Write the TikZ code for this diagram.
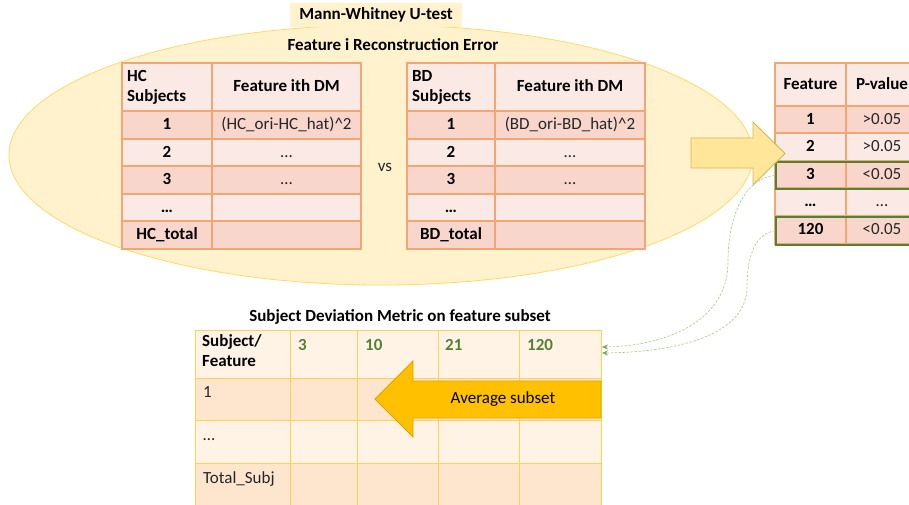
\documentclass[tikz,border=0pt]{standalone}
\usepackage{fontspec}
\setmainfont{Carlito}
\usetikzlibrary{arrows.meta}

\definecolor{ovalfill}{HTML}{FFF2CC}
\definecolor{ovalline}{HTML}{FFD966}
\definecolor{rowlight}{HTML}{FBE9E5}
\definecolor{rowdark}{HTML}{F8D6CC}
\definecolor{gridorange}{HTML}{F4A672}
\definecolor{sublight}{HTML}{FFF3E6}
\definecolor{subdark}{HTML}{FDE6CD}
\definecolor{gridyellow}{HTML}{FFD24F}
\definecolor{selgreen}{HTML}{548235}
\definecolor{linkgreen}{HTML}{A9D18E}
\definecolor{tipgreen}{HTML}{70AD47}
\definecolor{arrowpale}{HTML}{FFE699}
\definecolor{arrowpaleline}{HTML}{D6B656}
\definecolor{arrowgold}{HTML}{FFC000}
\definecolor{arrowgoldline}{HTML}{D9A400}
\definecolor{bodytext}{HTML}{262626}

\tikzset{
  plain/.style={inner sep=0pt, font=\fontsize{17}{20}\selectfont, text=bodytext},
  bplain/.style={inner sep=0pt, font=\fontsize{17}{20}\selectfont\bfseries, text=black},
  txt/.style={plain, text height=12pt, text depth=3pt},
  btxt/.style={bplain, text height=12pt, text depth=3pt},
  gridA/.style={draw=gridorange, line width=1.1pt},
  gridB/.style={draw=gridyellow, line width=1pt},
  selbox/.style={draw=selgreen, line width=1.8pt, inner sep=0pt, minimum width=150pt, minimum height=27pt, anchor=north west},
  link/.style={linkgreen, line width=0.7pt, dash pattern=on 2.5pt off 1.5pt, -{Stealth[length=6pt,width=5pt,color=tipgreen]}},
}

\begin{document}
\begin{tikzpicture}[x=1pt, y=-1pt]
\clip (0,0) rectangle (909,504);

% test region
\draw[ovalline, fill=ovalfill, line width=0.8pt] (381,155) ellipse [x radius=372, y radius=130];
\node[bplain, fill=ovalfill, minimum width=172pt, minimum height=24pt] (mwtitle) at (376,15) {Mann-Whitney U-test};
\node[btxt] (recon) at (393,46) {Feature i Reconstruction Error};

% HC table
\foreach \ya/\yb/\f in {63/111/rowlight,111/139/rowdark,139/166/rowlight,166/194/rowdark,194/221/rowlight,221/249/rowdark}
  \fill[\f] (122,\ya) rectangle (361,\yb);
\draw[gridA] (122,63) rectangle (361,249) (212,63) -- (212,249)
  \foreach \y in {111,139,166,194,221} {(122,\y) -- (361,\y)};
\node[bplain, anchor=west, align=left] (hc-h1) at (127,87) {HC\\Subjects};
\node[btxt] (hc-h2) at (286.5,87) {Feature ith DM};
\foreach \y/\a/\b [count=\i] in {125/1/(HC\_ori-HC\_hat)\textasciicircum2, 152.5/2/\ldots, 180/3/\ldots, 207.5/\ldots/, 235/HC\_total/} {
  \node[btxt] (hc-a\i) at (167,\y) {\a};
  \node[txt] (hc-b\i) at (286.5,\y) {\b};
}

\node[txt] (vs) at (385,167) {vs};

% BD table
\foreach \ya/\yb/\f in {63/111/rowlight,111/139/rowdark,139/166/rowlight,166/194/rowdark,194/221/rowlight,221/249/rowdark}
  \fill[\f] (407,\ya) rectangle (645,\yb);
\draw[gridA] (407,63) rectangle (645,249) (495,63) -- (495,249)
  \foreach \y in {111,139,166,194,221} {(407,\y) -- (645,\y)};
\node[bplain, anchor=west, align=left] (bd-h1) at (412,87) {BD\\Subjects};
\node[btxt] (bd-h2) at (570,87) {Feature ith DM};
\foreach \y/\a/\b [count=\i] in {125/1/(BD\_ori-BD\_hat)\textasciicircum2, 152.5/2/\ldots, 180/3/\ldots, 207.5/\ldots/, 235/BD\_total/} {
  \node[btxt] (bd-a\i) at (451,\y) {\a};
  \node[txt] (bd-b\i) at (570,\y) {\b};
}

% p-value table
\foreach \ya/\yb/\f in {63/106/rowlight,106/133/rowdark,133/161/rowlight,161/188/rowdark,188/216/rowlight,216/244/rowdark}
  \fill[\f] (775,\ya) rectangle (918,\yb);
\draw[gridA] (775,63) rectangle (918,244) (846,63) -- (846,244)
  \foreach \y in {106,133,161,188,216} {(775,\y) -- (918,\y)};
\node[btxt] (pv-h1) at (810.5,85) {Feature};
\node[btxt] (pv-h2) at (882,85) {P-value};
\foreach \y/\a/\b [count=\i] in {119.5/1/{>0.05}, 147/2/{>0.05}, 174.5/3/{<0.05}, 202/\ldots/\ldots, 230/120/{<0.05}} {
  \node[btxt] (pv-a\i) at (810.5,\y) {\a};
  \node[txt] (pv-b\i) at (882,\y) {\b};
}
\node[selbox] (sel3) at (775,161) {};
\node[selbox, minimum height=28pt] (sel120) at (775,216) {};

% arrow from the test to the p-values
\draw[arrowpaleline, fill=arrowpale, line width=0.9pt, line join=miter]
  (691,138) -- (753,138) -- (753,122) -- (785,153.5) -- (753,185) -- (753,168) -- (691,168) -- cycle;

% subject deviation table
\node[btxt] (sdtitle) at (400,317) {Subject Deviation Metric on feature subset};
\foreach \ya/\yb/\f in {330/378/sublight,378/420/subdark,420/463/sublight,463/510/subdark}
  \fill[\f] (195,\ya) rectangle (601,\yb);
\draw[gridB] (195,510) -- (195,330) -- (601,330) -- (601,510)
  \foreach \x in {290,357,438,519} {(\x,330) -- (\x,510)}
  \foreach \y in {378,420,463} {(195,\y) -- (601,\y)};
\node[bplain, anchor=north west, align=left] (sd-h) at (202,334) {Subject/\\Feature};
\foreach \x/\t [count=\i] in {298/3, 365/10, 445/21, 527/120}
  \node[bplain, anchor=base west, text=selgreen] (sd-f\i) at (\x,350) {\t};
\node[plain, anchor=base west] (sd-r1) at (203,397) {1};
\node[plain, anchor=base west] (sd-r2) at (203,440) {\ldots};
\node[plain, anchor=base west] (sd-r3) at (203,483) {Total\_Subj};

\draw[arrowgoldline, fill=arrowgold, line width=0.8pt, line join=miter]
  (601,381) -- (413,381) -- (413,361) -- (375,399) -- (413,437) -- (413,418) -- (601,418) -- cycle;
\node[plain, text=black] (avg) at (503,399) {Average subset};

% selected features carried to the subset table
\coordinate (in3) at (602,347);
\coordinate (in120) at (602,353);
\draw[link] (sel3.west) .. controls (745,178) and (728,215) .. (728,262)
  .. controls (728,322) and (665,346) .. (in3);
\draw[link] (sel120.west) .. controls (756,233) and (747,255) .. (747,287)
  .. controls (747,332) and (685,352) .. (in120);
\end{tikzpicture}
\end{document}
